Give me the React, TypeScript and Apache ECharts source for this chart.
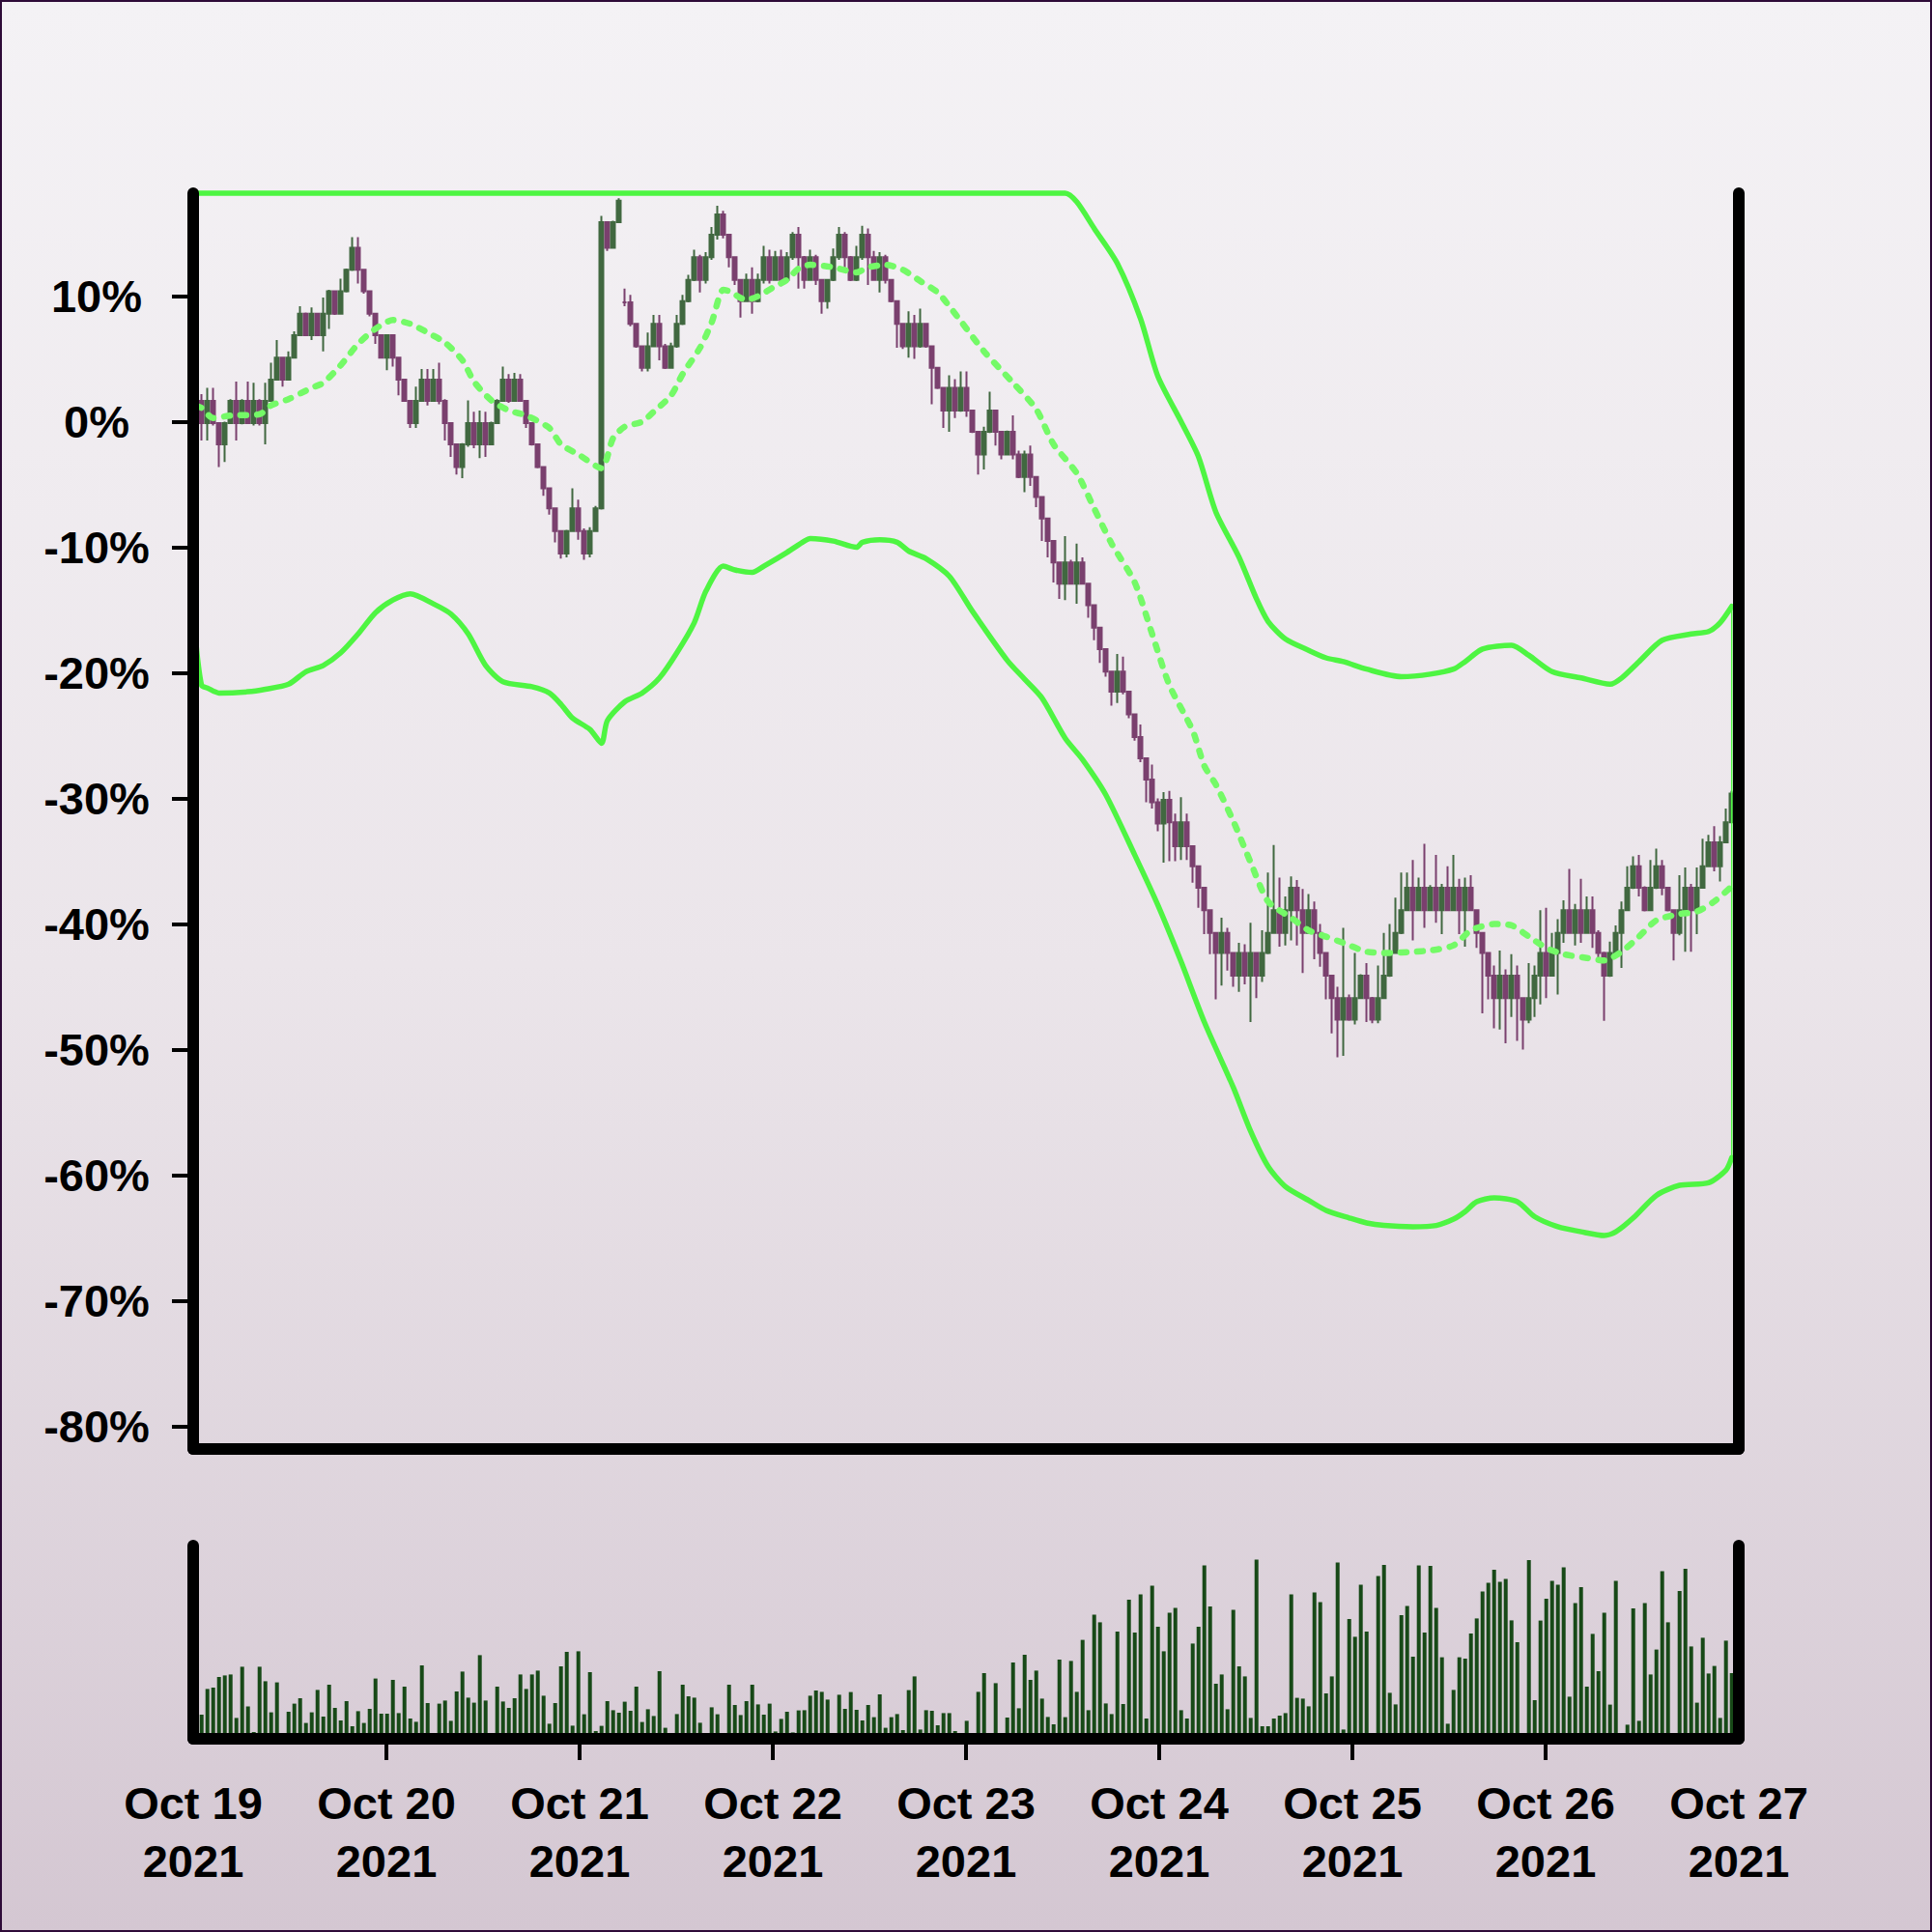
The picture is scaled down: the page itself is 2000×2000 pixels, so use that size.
import React, { useEffect, useRef } from "react";
import * as echarts from "echarts";

const DAY = 86400000;
const AXIS_START = Date.UTC(2021, 9, 19);
const AXIS_END = Date.UTC(2021, 9, 27);
const FIRST_BAR = AXIS_START + 1170000;
const BAR_STEP = 2592000;
const MONTHS = ["Jan", "Feb", "Mar", "Apr", "May", "Jun", "Jul", "Aug", "Sep", "Oct", "Nov", "Dec"];
const yTicks = [-80, -70, -60, -50, -40, -30, -20, -10, 0, 10];
const dayTicks = [1, 2, 3, 4, 5, 6, 7];

const firstOpen = -0.1;
const gapOpens: Record<number, number> = { 74: 9.5 };

const closes = [
  1.67, -0.1, 1.67, -0.1, -1.8, -0.1, 1.67, -0.1, 1.67, -0.1,
  1.67, -0.1, 1.67, 3.35, 5.1, 3.35, 5.1, 6.9, 8.6, 6.9,
  8.6, 6.9, 8.6, 10.4, 8.6, 10.4, 12.1, 13.85, 12.1, 10.4,
  8.6, 6.9, 5.1, 6.9, 5.1, 3.35, 1.67, -0.1, 1.67, 3.35,
  1.67, 3.35, 1.67, -0.1, -1.8, -3.6, -1.8, -0.1, -1.8, -0.1,
  -1.8, -0.1, 1.67, 3.35, 1.67, 3.35, 1.67, -0.1, -1.8, -3.6,
  -5.3, -6.9, -8.7, -10.5, -8.7, -6.9, -8.7, -10.5, -8.7, -6.9,
  15.9, 13.85, 15.9, 17.6, 9.5, 7.8, 6.0, 4.3, 6.0, 7.8,
  6.0, 4.3, 6.0, 7.8, 9.6, 11.3, 13.1, 11.3, 13.1, 14.9,
  16.5, 14.9, 13.1, 11.3, 9.6, 11.3, 9.6, 11.3, 13.1, 11.3,
  13.1, 11.3, 13.1, 14.9, 13.1, 11.3, 13.1, 11.3, 9.6, 11.3,
  13.1, 14.9, 13.1, 11.3, 13.1, 14.9, 13.1, 11.3, 13.1, 11.3,
  9.6, 7.8, 6.0, 7.8, 6.0, 7.8, 6.0, 4.3, 2.7, 0.9,
  2.7, 0.9, 2.7, 0.9, -0.8, -2.6, -0.8, 0.9, -0.8, -2.6,
  -0.8, -2.6, -4.4, -2.6, -4.4, -6.0, -7.7, -9.5, -11.2, -12.9,
  -11.2, -12.9, -11.2, -12.9, -14.6, -16.4, -18.1, -19.9, -21.5, -19.9,
  -21.5, -23.3, -25.1, -26.8, -28.5, -30.3, -32.0, -30.1, -31.9, -33.8,
  -31.9, -33.8, -35.4, -37.1, -38.9, -40.7, -42.3, -40.7, -42.3, -44.1,
  -42.3, -44.1, -42.3, -44.1, -42.3, -40.7, -38.9, -40.7, -38.9, -37.1,
  -38.9, -40.7, -38.9, -40.7, -42.3, -44.1, -45.9, -47.6, -45.9, -47.6,
  -45.9, -44.1, -45.9, -47.6, -45.9, -44.1, -42.3, -40.7, -38.9, -37.1,
  -38.9, -37.1, -38.9, -37.1, -38.9, -37.1, -38.9, -37.1, -38.9, -37.1,
  -38.9, -40.7, -42.3, -44.1, -45.9, -44.1, -45.9, -44.1, -45.9, -47.6,
  -45.9, -44.1, -42.3, -44.1, -42.3, -40.7, -38.9, -40.7, -38.9, -40.7,
  -38.9, -40.7, -42.3, -44.1, -42.3, -40.7, -38.9, -37.1, -35.4, -37.1,
  -38.9, -37.1, -35.4, -37.1, -38.9, -40.7, -38.9, -37.1, -38.9, -37.1,
  -35.4, -33.5, -35.4, -33.5, -31.9, -29.6,
];

const highs = [
  2.2, 2.2, 2.7, 2.7, -0.1, 0.0, 1.8, 3.2, 1.8, 3.2,
  3.1, 1.8, 3.1, 4.7, 6.5, 5.1, 5.6, 7.2, 9.2, 8.7,
  9.1, 8.6, 9.9, 10.5, 10.4, 11.4, 12.2, 14.7, 14.7, 12.1,
  10.4, 8.6, 6.9, 6.9, 6.9, 5.1, 3.35, 1.67, 2.8, 4.2,
  4.2, 4.2, 4.7, 1.8, -0.1, -1.8, -1.7, 1.7, 0.8, 0.9,
  0.8, 0.0, 1.8, 4.4, 3.8, 3.9, 3.8, 1.67, -0.1, -1.8,
  -3.6, -5.3, -6.9, -8.7, -8.6, -5.3, -6.2, -8.5, -8.4, -6.7,
  16.4, 15.9, 16.0, 17.8, 10.6, 10.1, 7.8, 6.0, 7.1, 8.5,
  8.5, 6.2, 6.3, 8.5, 10.1, 11.7, 13.7, 13.3, 13.5, 15.5,
  17.2, 16.8, 14.9, 13.1, 11.3, 11.8, 12.3, 11.8, 14.0, 13.7,
  13.6, 13.7, 13.5, 15.1, 15.5, 13.2, 13.7, 13.3, 11.3, 11.3,
  13.8, 15.5, 15.1, 13.2, 14.0, 15.6, 15.4, 13.6, 13.5, 13.3,
  11.3, 9.6, 7.8, 8.8, 8.5, 9.0, 7.8, 6.0, 4.3, 2.7,
  3.7, 3.4, 4.0, 4.0, 0.9, -0.8, -0.4, 2.4, 0.9, -0.8,
  -0.7, 0.5, -2.3, -2.3, -1.9, -4.4, -6.0, -7.7, -9.5, -11.2,
  -9.1, -11.0, -9.7, -10.8, -12.9, -14.6, -16.4, -18.1, -19.9, -18.5,
  -18.7, -21.5, -23.3, -24.1, -26.8, -27.3, -30.0, -29.5, -29.4, -31.2,
  -29.9, -31.2, -33.8, -35.4, -37.1, -38.9, -40.7, -39.5, -40.3, -42.3,
  -41.5, -41.6, -39.9, -42.3, -40.5, -35.9, -33.7, -36.3, -37.8, -36.2,
  -36.5, -37.2, -37.6, -38.2, -40.0, -42.3, -44.1, -45.0, -40.3, -45.6,
  -42.3, -44.0, -43.1, -45.8, -43.3, -40.7, -40.0, -37.9, -35.9, -35.9,
  -34.9, -36.3, -33.6, -36.9, -34.5, -36.8, -35.4, -34.5, -36.4, -36.3,
  -36.1, -38.9, -40.7, -42.3, -43.3, -42.1, -43.6, -42.4, -43.3, -45.9,
  -43.1, -43.3, -38.9, -38.7, -40.7, -39.6, -38.1, -35.6, -38.4, -36.4,
  -37.8, -37.8, -40.5, -42.2, -41.4, -40.1, -38.2, -35.4, -34.6, -34.5,
  -37.0, -34.9, -34.0, -34.9, -37.1, -38.9, -36.1, -35.5, -36.8, -35.5,
  -33.2, -32.9, -32.2, -33.0, -30.8, -29.4,
];

const lows = [
  -0.3, -1.5, -1.5, -0.3, -3.6, -3.2, -0.1, -1.5, -0.2, -0.1,
  -0.3, -0.3, -1.8, 1.67, 3.35, 2.8, 3.35, 5.1, 6.9, 6.9,
  6.5, 6.9, 5.6, 7.4, 8.5, 8.6, 10.3, 12.0, 11.0, 10.2,
  8.4, 6.2, 5.1, 4.1, 4.4, 2.1, 1.67, -0.5, -0.5, 1.6,
  1.3, 1.6, 1.4, -1.5, -2.8, -4.2, -4.5, -2.0, -2.1, -2.9,
  -2.8, -1.8, -0.1, 1.67, 1.5, 1.67, 1.67, -0.5, -1.9, -3.7,
  -5.9, -7.4, -9.6, -10.9, -10.8, -8.7, -9.4, -11.0, -10.8, -8.7,
  -7.0, 13.6, 13.85, 15.9, 9.2, 7.6, 5.9, 4.0, 4.0, 6.0,
  4.9, 4.2, 4.3, 5.9, 7.7, 9.5, 11.2, 10.3, 11.0, 12.9,
  14.5, 14.6, 12.3, 10.9, 8.3, 9.6, 8.6, 9.5, 11.0, 11.0,
  11.3, 10.8, 11.3, 12.9, 10.6, 10.6, 11.3, 10.9, 8.6, 9.0,
  11.2, 12.9, 12.3, 11.2, 11.2, 12.9, 10.9, 11.3, 10.3, 11.0,
  9.5, 5.9, 5.8, 5.1, 5.0, 5.9, 5.9, 1.4, 2.6, -0.5,
  -0.8, 0.3, 0.8, 0.4, -0.9, -4.2, -3.8, -0.9, -1.9, -3.0,
  -2.6, -3.0, -4.5, -5.6, -5.1, -6.8, -9.5, -10.8, -12.8, -14.1,
  -14.2, -12.9, -14.5, -12.9, -15.6, -17.4, -19.2, -20.3, -22.6, -22.4,
  -21.7, -23.6, -25.4, -27.1, -30.3, -30.8, -32.6, -35.1, -35.0, -35.0,
  -34.9, -34.9, -36.7, -38.7, -40.8, -42.4, -46.0, -44.9, -43.7, -45.0,
  -45.4, -44.8, -47.8, -45.9, -44.6, -42.4, -40.7, -41.8, -41.7, -41.3,
  -41.7, -43.9, -40.7, -42.8, -43.4, -46.0, -48.7, -50.6, -50.5, -47.7,
  -48.0, -45.9, -47.8, -47.9, -47.9, -45.9, -44.2, -42.3, -40.8, -38.9,
  -41.3, -38.9, -40.3, -38.8, -39.9, -40.8, -38.9, -38.8, -40.8, -41.8,
  -38.9, -41.9, -47.1, -46.0, -48.3, -48.4, -49.5, -47.4, -49.3, -50.0,
  -47.9, -47.4, -46.4, -45.9, -44.1, -45.6, -41.5, -40.7, -41.7, -41.5,
  -40.7, -41.9, -42.8, -47.7, -44.2, -42.3, -43.5, -38.9, -37.2, -37.8,
  -39.0, -38.9, -37.2, -37.7, -39.0, -42.9, -40.9, -42.2, -42.2, -40.8,
  -37.1, -35.4, -35.8, -36.6, -33.5, -31.9,
];

const volumes = [
  10, 12.5, 25.8, 26.5, 32, 32.8, 33.3, 10.8, 37.3, 16.8,
  3.5, 37.3, 29.8, 13.7, 29.2, 0, 14, 18.2, 21, 8.2,
  13.7, 25.3, 11.5, 28, 16, 9.5, 19.5, 6.5, 14.3, 8.2,
  15.5, 31.2, 13, 13, 30.5, 13.3, 27, 10.5, 8.8, 38,
  18.5, 0, 18.2, 19.8, 9.3, 24.5, 34.8, 21.3, 18.7, 43.3,
  19.8, 0, 27, 19.3, 16, 21, 33.3, 25.8, 33.3, 35.3,
  22.3, 7.8, 18.5, 37.5, 45, 6.8, 45.3, 12.7, 34.5, 4,
  6.7, 19.5, 14.8, 13.5, 19.2, 14.5, 27, 8.7, 15.3, 11.8,
  35, 5.7, 0, 12.8, 28, 22, 21.3, 8.3, 0, 16.3,
  12.7, 0, 28, 17.5, 12.3, 19.5, 28, 17.8, 12.5, 18.2,
  3.8, 10.3, 14, 3.3, 14.7, 14.8, 22.3, 25, 24.3, 20.3,
  0, 22.8, 15.5, 24.2, 15, 9.5, 17.5, 11.2, 23, 5.7,
  11.2, 12.8, 4.5, 25.2, 32.3, 4.8, 14.8, 14.5, 7, 13.3,
  13.3, 4, 0, 9.3, 0, 24.3, 34, 0, 28.8, 0,
  11, 39.5, 15.8, 43.5, 30.5, 35.3, 20.8, 11.3, 7.5, 41,
  11.2, 40.3, 24.3, 51.2, 14.8, 64.2, 60.3, 18.3, 12.8, 55.5,
  18, 72, 55, 74.8, 10.5, 79.3, 58, 45.3, 65.2, 67.7,
  14.8, 10.5, 49.3, 58, 89.8, 68.5, 28.5, 33.3, 15.3, 66.8,
  37.5, 32.3, 10.8, 92.8, 6.5, 6.5, 10.5, 12, 13.3, 74.8,
  21.2, 20.8, 16.8, 75.8, 70.8, 23.5, 32.3, 91.2, 4.8, 62,
  52.8, 79.8, 55.5, 0, 84.3, 90, 23.8, 17.8, 64, 68.8,
  42.5, 89.7, 55, 89.5, 67.7, 42.2, 7.8, 25.3, 42.2, 41.5,
  54.5, 62.3, 76.3, 80.8, 87.5, 81.3, 82.7, 61.3, 50, 0,
  92.5, 20, 61.2, 72.5, 81.8, 79.8, 88.8, 21.8, 70.3, 78.5,
  27, 54.3, 35, 65.3, 17.7, 81.8, 0, 7.3, 67.5, 9.3,
  70.3, 33.3, 46.2, 86.8, 60.3, 0, 76.5, 88, 47.8, 18.7,
  52.3, 33.8, 37.7, 10.8, 50.8, 34,
];

const maIdx = [0, 1, 3, 6, 11, 13, 16, 20, 22, 25, 28, 31, 34, 37, 40, 43, 46, 48, 51, 54, 57, 61, 63, 66, 70, 72, 74, 77, 79, 82, 84, 87, 89, 91, 92, 95, 97, 100, 102, 104, 106, 110, 114, 116, 119, 122, 125, 128, 130, 132, 136, 141, 145, 148, 152, 155, 158, 162, 165, 168, 172, 174, 176, 179, 182, 185, 189, 192, 195, 198, 202, 206, 210, 213, 217, 220, 224, 227, 230, 233, 236, 240, 243, 246, 249, 252, 256, 259, 262, 265];
const maVal = [1.3, 1.1, 0.3, 0.5, 0.6, 1.3, 1.8, 2.7, 3.1, 4.5, 6.2, 7.4, 8.1, 7.8, 7.1, 6.3, 4.9, 3.2, 1.7, 0.9, 0.5, -0.5, -1.8, -2.6, -3.7, -1.3, -0.4, 0.0, 0.8, 2.1, 3.8, 5.9, 7.9, 10.5, 10.4, 9.7, 10.0, 10.8, 11.3, 12.2, 12.5, 12.3, 11.9, 12.3, 12.5, 12.1, 11.2, 10.3, 9.2, 8.0, 5.6, 3.1, 1.0, -1.8, -4.1, -6.9, -9.7, -12.8, -16.9, -21.0, -24.6, -27.4, -28.9, -31.8, -35.1, -38.2, -39.5, -40.5, -41.0, -41.5, -42.2, -42.3, -42.2, -42.1, -41.7, -40.5, -40.0, -40.1, -41.0, -41.9, -42.4, -42.7, -42.9, -42.2, -41.0, -39.7, -39.2, -39.0, -38.2, -37.0];

const lowerIdx = [0, 1, 2, 4, 9, 12, 16, 19, 22, 25, 28, 31, 34, 37, 41, 44, 47, 50, 53, 58, 61, 63, 65, 68, 70, 71, 74, 77, 80, 83, 86, 88, 91, 93, 96, 98, 102, 105, 106, 110, 114, 115, 118, 121, 123, 126, 130, 134, 140, 143, 146, 150, 153, 157, 162, 166, 170, 174, 179, 182, 185, 188, 192, 195, 199, 202, 205, 210, 214, 217, 219, 221, 224, 228, 231, 235, 239, 243, 245, 248, 252, 256, 261, 264, 265];
const lowerVal = [-17.5, -21.0, -21.2, -21.6, -21.5, -21.3, -20.9, -19.9, -19.4, -18.4, -16.9, -15.2, -14.2, -13.7, -14.5, -15.3, -16.9, -19.4, -20.7, -21.1, -21.6, -22.5, -23.6, -24.5, -25.6, -23.8, -22.3, -21.6, -20.4, -18.4, -16.0, -13.5, -11.5, -11.8, -12.0, -11.5, -10.4, -9.5, -9.3, -9.5, -10.0, -9.6, -9.4, -9.6, -10.3, -10.9, -12.3, -15.1, -19.0, -20.5, -22.0, -25.2, -26.9, -29.7, -34.5, -38.5, -43.0, -47.8, -53.0, -56.5, -59.3, -60.9, -62.0, -62.8, -63.4, -63.8, -64.0, -64.1, -64.0, -63.5, -62.9, -62.1, -61.8, -62.1, -63.3, -64.1, -64.5, -64.8, -64.5, -63.4, -61.6, -60.8, -60.6, -59.6, -58.6];

const upperIdx = [0, 150, 152, 155, 159, 163, 166, 170, 173, 176, 180, 183, 185, 188, 192, 195, 198, 202, 208, 213, 217, 219, 222, 227, 230, 234, 239, 244, 246, 249, 253, 258, 261, 263, 265];
const upperVal = [18.2, 18.2, 17.5, 15.4, 12.6, 8.2, 3.6, 0.0, -2.8, -7.2, -10.8, -14.1, -15.9, -17.3, -18.2, -18.8, -19.1, -19.7, -20.3, -20.1, -19.7, -19.1, -18.1, -17.8, -18.6, -19.9, -20.4, -20.9, -20.4, -19.1, -17.4, -16.9, -16.7, -16.0, -14.7];

const FONT = "'Liberation Sans', Arial, Helvetica, sans-serif";
const BAND_GREEN = "#4ef542";
const MA_GREEN = "#74fa67";
const UP = "#416840";
const DOWN = "#7a406e";
const VOL = "#174917";

const timeOf = (k: number) => FIRST_BAR + k * BAR_STEP;

function App() {
  const ref = useRef<HTMLDivElement>(null);

  useEffect(() => {
    document.body.style.margin = "0";
    if (!ref.current) return;
    const chart = echarts.init(ref.current, null, { renderer: "svg" });

    const candleData = closes.map((c, i) => {
      const open = i === 0 ? firstOpen : gapOpens[i] !== undefined ? gapOpens[i] : closes[i - 1];
      return [timeOf(i), open, c, lows[i], highs[i]];
    });
    const volData = volumes.map((v, i) => [timeOf(i), v]);
    const maData = maIdx.map((k, i) => [timeOf(k), maVal[i]]);
    const lowerData = lowerIdx.map((k, i) => [timeOf(k), lowerVal[i]]);
    const upperData = upperIdx.map((k, i) => [timeOf(k), upperVal[i]]);
    const lastK = closes.length - 1;
    const edgeData = [
      [timeOf(lastK), upperVal[upperVal.length - 1]],
      [timeOf(lastK), lowerVal[lowerVal.length - 1]],
    ];

    const blackLine = { show: true, onZero: false, lineStyle: { color: "#000", width: 12, cap: "round" } };
    const noSplit = { show: false };

    const option: any = {
      animation: false,
      backgroundColor: new echarts.graphic.LinearGradient(0, 0, 0, 1, [
        { offset: 0, color: "#f4f2f5" },
        { offset: 0.5, color: "#ebe5ea" },
        { offset: 1, color: "#d4c7d2" },
      ]),
      graphic: [
        {
          type: "rect",
          shape: { x: 1, y: 1, width: 1998, height: 1998 },
          style: { fill: "none", stroke: "#2e0b38", lineWidth: 2 },
          silent: true,
          z: 100,
        },
      ],
      grid: [
        { left: 200, right: 200, top: 200, height: 1300 },
        { left: 200, right: 200, top: 1600, height: 200 },
      ],
      xAxis: [
        {
          type: "value",
          gridIndex: 0,
          min: AXIS_START,
          max: AXIS_END,
          interval: DAY,
          z: 10,
          axisLine: blackLine,
          axisTick: { show: false },
          axisLabel: { show: false },
          splitLine: noSplit,
        },
        {
          type: "value",
          gridIndex: 1,
          min: AXIS_START,
          max: AXIS_END,
          interval: DAY,
          z: 10,
          axisLine: blackLine,
          axisTick: {
            show: true,
            length: 22,
            lineStyle: { color: "#000", width: 4 },
            customValues: dayTicks.map((d) => AXIS_START + d * DAY),
          },
          axisLabel: {
            show: true,
            showMinLabel: true,
            showMaxLabel: true,
            margin: 36,
            color: "#000",
            fontFamily: FONT,
            fontWeight: "bold",
            fontSize: 47,
            lineHeight: 60,
            formatter: (v: number) => {
              const d = new Date(v);
              return `${MONTHS[d.getUTCMonth()]} ${d.getUTCDate()}\n${d.getUTCFullYear()}`;
            },
          },
          splitLine: noSplit,
        },
      ],
      yAxis: [
        {
          type: "value",
          gridIndex: 0,
          position: "left",
          min: -81.8,
          max: 18.2,
          z: 10,
          axisLine: blackLine,
          axisTick: { show: true, length: 22, lineStyle: { color: "#000", width: 4 }, customValues: yTicks },
          axisLabel: {
            show: true,
            customValues: yTicks,
            margin: 100,
            align: "center",
            color: "#000",
            fontFamily: FONT,
            fontWeight: "bold",
            fontSize: 47,
            formatter: (v: number) => `${v}%`,
          },
          splitLine: noSplit,
        },
        {
          type: "value",
          gridIndex: 0,
          position: "right",
          min: -81.8,
          max: 18.2,
          z: 10,
          axisLine: blackLine,
          axisTick: { show: false },
          axisLabel: { show: false },
          splitLine: noSplit,
        },
        {
          type: "value",
          gridIndex: 1,
          position: "left",
          min: 0,
          max: 100,
          z: 10,
          axisLine: blackLine,
          axisTick: { show: false },
          axisLabel: { show: false },
          splitLine: noSplit,
        },
        {
          type: "value",
          gridIndex: 1,
          position: "right",
          min: 0,
          max: 100,
          z: 10,
          axisLine: blackLine,
          axisTick: { show: false },
          axisLabel: { show: false },
          splitLine: noSplit,
        },
      ],
      series: [
        {
          type: "candlestick",
          name: "price",
          xAxisIndex: 0,
          yAxisIndex: 0,
          data: candleData,
          encode: { x: 0, y: [1, 2, 3, 4] },
          barWidth: 5,
          itemStyle: {
            color: UP,
            color0: DOWN,
            borderColor: UP,
            borderColor0: DOWN,
            borderWidth: 2,
          },
          z: 2,
        },
        {
          type: "line",
          name: "ma",
          xAxisIndex: 0,
          yAxisIndex: 0,
          data: maData,
          showSymbol: false,
          smooth: 0.25,
          lineStyle: { color: MA_GREEN, width: 6.5, type: [6, 11], cap: "round", join: "round" },
          z: 4,
        },
        {
          type: "line",
          name: "upper",
          xAxisIndex: 0,
          yAxisIndex: 0,
          data: upperData,
          showSymbol: false,
          smooth: 0.25,
          clip: false,
          lineStyle: { color: BAND_GREEN, width: 5.5, cap: "round", join: "round" },
          z: 4,
        },
        {
          type: "line",
          name: "lower",
          xAxisIndex: 0,
          yAxisIndex: 0,
          data: lowerData,
          showSymbol: false,
          smooth: 0.25,
          lineStyle: { color: BAND_GREEN, width: 5.5, cap: "round", join: "round" },
          z: 4,
        },
        {
          type: "line",
          name: "edge",
          xAxisIndex: 0,
          yAxisIndex: 0,
          data: edgeData,
          showSymbol: false,
          lineStyle: { color: BAND_GREEN, width: 1.5 },
          z: 4,
        },
        {
          type: "bar",
          name: "volume",
          xAxisIndex: 1,
          yAxisIndex: 2,
          data: volData,
          barWidth: 4,
          itemStyle: { color: VOL },
          z: 2,
        },
      ],
    };

    chart.setOption(option);
    return () => chart.dispose();
  }, []);

  return <div ref={ref} style={{ width: 2000, height: 2000 }} />;
}

export default App;
